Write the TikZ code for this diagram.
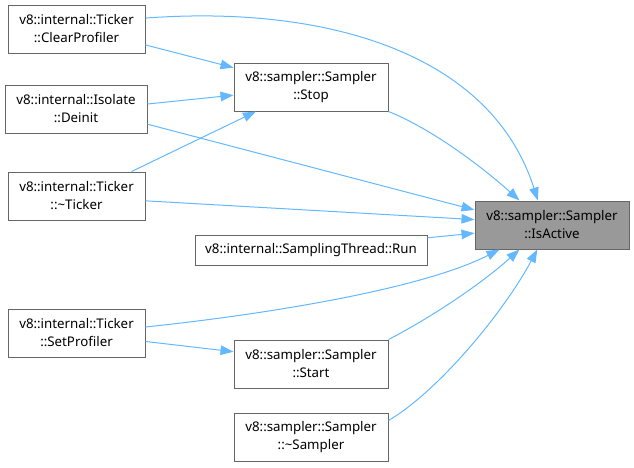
\documentclass[tikz,border=0pt]{standalone}
\usepackage{fontspec}
\setmainfont{Noto Sans}
\usetikzlibrary{arrows.meta}
\definecolor{edgeblue}{HTML}{63B8FF}
\definecolor{boxgray}{HTML}{666666}
\definecolor{fillgray}{HTML}{999999}
\tikzset{
  fn/.style={draw=boxgray, line width=1pt, fill=white, inner sep=0pt, align=center,
    font=\fontsize{13.3}{18}\selectfont, minimum height=48pt},
  narrow/.style={fn, minimum width=137pt},
  wide/.style={fn, minimum width=154pt},
  focus/.style={fn, minimum width=154pt, fill=fillgray},
  call/.style={draw=edgeblue, line width=1pt, -{Triangle[length=13pt,width=9.5pt]}}
}
\begin{document}
\begin{tikzpicture}[x=1pt,y=-1pt]
\useasboundingbox (0,0) rectangle (634,467);
\node[narrow] (cp) at (76.5,29) {v8::internal::Ticker\\::ClearProfiler};
\node[fn, minimum width=142pt] (de) at (76,109) {v8::internal::Isolate\\::Deinit};
\node[narrow] (tk) at (76.5,196) {v8::internal::Ticker\\::\textasciitilde Ticker};
\node[wide] (stop) at (311,87) {v8::sampler::Sampler\\::Stop};
\node[focus] (ia) at (552,225) {v8::sampler::Sampler\\::IsActive};
\node[fn, minimum width=232pt, minimum height=30pt] (run) at (311,250) {v8::internal::SamplingThread::Run};
\node[narrow] (sp) at (76.5,333) {v8::internal::Ticker\\::SetProfiler};
\node[wide] (start) at (311,364) {v8::sampler::Sampler\\::Start};
\node[wide] (smp) at (311,437) {v8::sampler::Sampler\\::\textasciitilde Sampler};

\draw[call] (cp.9.9) .. controls (320,5) and (490,50) .. (ia.120.3);
\draw[call] (cp.-13.9) -- (stop.166.1);
\draw[call] (de.4.8) -- (stop.-174.1);
\draw[call] (tk.24.2) -- (stop.-156.8);
\draw[call] (stop.south east) .. controls (430,128) and (480,165) .. (ia.143.1);
\draw[call] (de.-12.7) -- (ia.169);
\draw[call] (tk.-4.2) -- (ia.176.3);
\draw[call] (run.6.4) -- (ia.-174.1);
\draw[call] (sp.5.8) .. controls (260,315) and (420,290) .. (ia.-155.6);
\draw[call] (sp.-7.5) -- (start.171.9);
\draw[call] (start.north east) .. controls (430,318) and (480,285) .. (ia.-143.7);
\draw[call] (smp.12.5) .. controls (440,390) and (505,310) .. (ia.-121);
\end{tikzpicture}
\end{document}
